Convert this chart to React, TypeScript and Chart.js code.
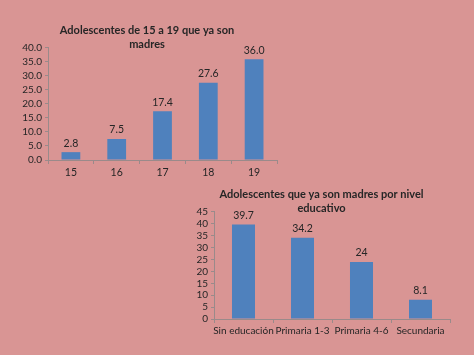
import React, { useEffect, useRef } from "react";
import { Chart, registerables } from "chart.js";

Chart.register(...registerables);

const ages = ["15", "16", "17", "18", "19"];
const ageValues = [2.8, 7.5, 17.4, 27.6, 36.0];
const levels = ["Sin educación", "Primaria 1-3", "Primaria 4-6", "Secundaria"];
const levelValues = [39.7, 34.2, 24, 8.1];
const title1 = ["Adolescentes de 15 a 19 que ya son", "madres"];
const title2 = ["Adolescentes que ya son madres por nivel", "educativo"];

const BG = "#d99594";
const BAR = "#4f81bd";
const AXIS = "#9a8a8a";
const TEXT = "#262626";
const FONT = "Lato";

const valueLabels = (fmt: (v: number) => string) => ({
  id: "valueLabels",
  afterDatasetsDraw(chart: any) {
    const ctx = chart.ctx;
    const meta = chart.getDatasetMeta(0);
    ctx.save();
    ctx.fillStyle = TEXT;
    ctx.font = `10.5px ${FONT}`;
    ctx.textAlign = "center";
    ctx.textBaseline = "middle";
    meta.data.forEach((bar: any, i: number) => {
      const v = chart.data.datasets[0].data[i] as number;
      ctx.fillText(fmt(v), bar.x, bar.y - 9);
    });
    ctx.restore();
  },
});

function makeConfig(
  labels: string[],
  values: number[],
  title: string[],
  max: number,
  yFmt: (v: number) => string,
  dFmt: (v: number) => string,
  yWidth: number,
  xHeight: number,
  pad: any,
  barPct: number,
  xFontSize: number
): any {
  return {
    type: "bar",
    data: {
      labels,
      datasets: [
        {
          data: values,
          backgroundColor: BAR,
          borderWidth: 0,
          categoryPercentage: 1,
          barPercentage: barPct,
        },
      ],
    },
    options: {
      animation: false,
      responsive: false,
      maintainAspectRatio: false,
      layout: { padding: pad },
      plugins: {
        legend: { display: false },
        tooltip: { enabled: false },
        title: {
          display: true,
          text: title,
          color: TEXT,
          font: { family: FONT, size: 11, weight: "bold", lineHeight: 1.27 },
          padding: { top: 0, bottom: -3 },
        },
      },
      scales: {
        x: {
          grid: {
            display: true,
            drawOnChartArea: false,
            drawTicks: true,
            tickLength: 4,
            color: AXIS,
            offset: true,
          },
          border: { color: AXIS, width: 1 },
          ticks: {
            color: TEXT,
            font: { family: FONT, size: xFontSize },
            padding: 2,
            autoSkip: false,
            maxRotation: 0,
            minRotation: 0,
          },
          afterFit: (s: any) => {
            s.height = xHeight;
          },
        },
        y: {
          min: 0,
          max,
          grid: { display: true, drawOnChartArea: false, tickLength: 3, color: AXIS },
          border: { color: AXIS, width: 1 },
          ticks: {
            stepSize: 5,
            autoSkip: false,
            color: TEXT,
            font: { family: FONT, size: 10 },
            padding: 3,
            callback: (v: any) => yFmt(Number(v)),
          },
          afterFit: (s: any) => {
            s.width = yWidth;
          },
        },
      },
    },
    plugins: [valueLabels(dFmt)],
  };
}

export default function App() {
  const ref1 = useRef<HTMLCanvasElement>(null);
  const ref2 = useRef<HTMLCanvasElement>(null);

  useEffect(() => {
    const c1 = new Chart(
      ref1.current!,
      makeConfig(
        ages,
        ageValues,
        title1,
        40,
        (v) => v.toFixed(1),
        (v) => v.toFixed(1),
        31,
        30,
        { top: 23, left: 17, right: 13, bottom: 0 },
        0.41,
        10.5
      )
    );
    const c2 = new Chart(
      ref2.current!,
      makeConfig(
        levels,
        levelValues,
        title2,
        45,
        (v) => String(v),
        (v) => String(v),
        21,
        27,
        { top: 17, left: 23, right: 24, bottom: 9 },
        0.39,
        10
      )
    );
    return () => {
      c1.destroy();
      c2.destroy();
    };
  }, []);

  return (
    <div
      style={{
        position: "fixed",
        left: 0,
        top: 0,
        width: 474,
        height: 355,
        background: BG,
        overflow: "hidden",
      }}
    >
      <canvas
        ref={ref1}
        width={290}
        height={190}
        style={{ position: "absolute", left: 0, top: 0, width: 290, height: 190 }}
      />
      <canvas
        ref={ref2}
        width={304}
        height={185}
        style={{ position: "absolute", left: 170, top: 170, width: 304, height: 185 }}
      />
    </div>
  );
}
